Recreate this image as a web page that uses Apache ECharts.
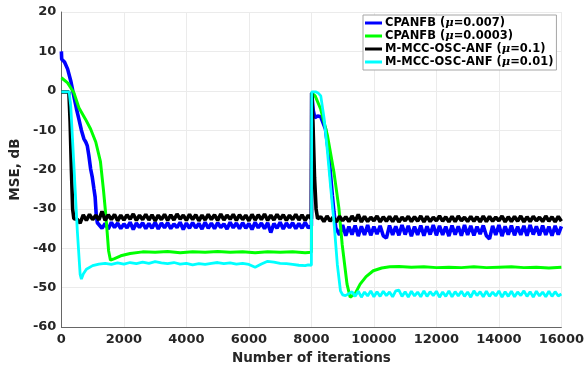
<!DOCTYPE html>
<html>
<head>
<meta charset="utf-8">
<script src="https://cdn.jsdelivr.net/npm/echarts@6/dist/echarts.min.js"></script>
<style>
  html, body { margin: 0; padding: 0; background: #fff; }
  #chart { width: 587px; height: 370px; }
</style>
</head>
<body>
<div id="chart"></div>
<script>
// series names (legend)
const names = [
  'CPANFB (μ=0.007)',
  'CPANFB (μ=0.0003)',
  'M-MCC-OSC-ANF (μ=0.1)',
  'M-MCC-OSC-ANF (μ=0.01)'
]

// steady-state samples are read every 100 iterations
const sampleStep = 100

// --- CPANFB (mu=0.007), blue ---
const blueStart1 = [
  [0, 10], [10, 8], [100, 7.3], [200, 5.5], [300, 2.5], [400, -1.4], [480, -4.5],
  [560, -7.2], [640, -10], [720, -12.2], [780, -13], [830, -14], [880, -16.5],
  [935, -19.8], [990, -22], [1040, -24.8], [1080, -27], [1115, -31.5], [1150, -33.5]
]
const blueSteady1 = [ // 1200 .. 7900
  -33.5, -34.9, -33.7, -35.1, -33.4, -34.7, -33.6, -35.0, -33.8, -34.8,
  -33.4, -35.2, -33.6, -34.7, -33.5, -35.0, -33.7, -34.9, -33.4, -35.1,
  -33.6, -34.8, -33.5, -35.0, -33.8, -34.7, -33.4, -35.2, -33.6, -34.9,
  -33.5, -34.8, -33.7, -35.1, -33.4, -34.9, -33.6, -35.0, -33.5, -34.7,
  -33.8, -35.1, -33.4, -34.8, -33.6, -35.0, -33.5, -34.9, -33.7, -35.2,
  -33.4, -34.8, -33.6, -35.0, -33.5, -36.0, -33.7, -34.9, -33.4, -35.1,
  -33.6, -34.8, -33.5, -35.0, -33.7, -34.9, -33.4, -34.8
]
const blueStart2 = [
  [8000, -34.3], [8010, -0.5], [8060, -5], [8110, -6.8], [8200, -6.4], [8300, -6.6],
  [8350, -7], [8450, -9.7], [8560, -16.4], [8670, -26.5], [8720, -30.6], [8780, -34.8]
]
const blueSteady2 = [ // 8800 .. 16000
  -34.3, -36.6, -34.1, -36.8, -34.5, -36.5, -34.2, -36.9, -34.4, -36.6,
  -34.1, -36.7, -34.5, -36.4, -34.3, -36.8, -37.4, -34.2, -36.6, -34.4,
  -36.7, -34.1, -36.5, -34.3, -36.9, -34.5, -36.6, -34.2, -36.8, -34.4,
  -36.5, -34.1, -36.7, -34.3, -36.6, -34.5, -36.9, -34.2, -36.5, -34.4,
  -36.8, -34.1, -36.6, -34.3, -36.7, -34.5, -36.4, -34.2, -36.8, -37.6,
  -34.3, -36.6, -34.1, -36.9, -34.4, -36.5, -34.2, -36.7, -34.5, -36.6,
  -34.3, -36.8, -34.1, -36.5, -34.4, -36.7, -34.2, -36.6, -34.5, -36.8,
  -34.3, -36.5, -34.4
]

// --- CPANFB (mu=0.0003), green ---
const green1 = [
  [0, 3.3], [50, 3], [200, 2], [400, -0.5], [560, -4.3], [770, -7.2], [935, -9.7],
  [1100, -13], [1250, -18], [1350, -25.5], [1430, -32.3], [1510, -40.6], [1570, -43],
  [1700, -42.6], [1900, -41.9], [2200, -41.3], [2600, -40.9], [3000, -41.0], [3400, -40.8],
  [3800, -41.1], [4200, -40.9], [4600, -41.0], [5000, -40.8], [5400, -41.0], [5800, -40.9],
  [6200, -41.1], [6600, -40.9], [7000, -41.0], [7400, -40.9], [7800, -41.1], [8000, -41.0]
]
const green2 = [
  [8010, -0.5], [8120, -1.3], [8300, -4.7], [8515, -11.4], [8720, -20.6], [8880, -29.8],
  [8985, -39], [9140, -49.1], [9240, -52.4], [9300, -52.9], [9400, -51.5], [9560, -49.1],
  [9750, -47.2], [9980, -45.7], [10250, -45.0], [10510, -44.7], [10800, -44.6], [11200, -44.8],
  [11600, -44.7], [12000, -44.9], [12400, -44.8], [12800, -44.9], [13200, -44.7], [13600, -44.9],
  [14000, -44.8], [14400, -44.7], [14800, -44.9], [15200, -44.8], [15600, -45.0], [16000, -44.8]
]

// --- M-MCC-OSC-ANF (mu=0.1), black ---
const blackStart1 = [
  [0, -0.3], [240, -0.3], [280, -8], [320, -20], [360, -30], [400, -32.5], [450, -32.0]
]
const blackSteady1 = [ // 500 .. 7900
  -32.6, -33.6, -31.5, -32.9, -31.4, -32.7, -31.6, -32.8, -30.6, -32.9,
  -31.5, -32.7, -31.4, -33.0, -31.6, -32.8, -31.5, -32.6, -31.3, -32.9,
  -31.6, -32.7, -31.4, -32.8, -31.5, -33.0, -31.6, -32.7, -31.4, -32.9,
  -31.5, -32.8, -31.3, -32.6, -31.6, -32.9, -31.4, -32.7, -31.5, -33.0,
  -31.6, -32.8, -31.4, -32.7, -31.5, -32.9, -31.3, -32.8, -31.6, -32.6,
  -31.4, -32.9, -31.5, -32.7, -31.6, -33.0, -31.4, -32.8, -31.5, -32.7,
  -31.3, -32.9, -31.6, -32.8, -31.4, -32.6, -31.5, -32.9, -31.6, -32.7,
  -31.4, -32.8, -31.5, -32.9, -31.6
]
const blackStart2 = [
  [8000, -32.5], [8010, -0.5], [8050, -8], [8100, -22], [8150, -30], [8200, -32.5], [8250, -33.0]
]
const blackSteady2 = [ // 8300 .. 16000
  -32.0, -33.2, -31.8, -33.1, -32.1, -33.3, -31.9, -33.0, -32.0, -33.2,
  -31.8, -33.1, -31.4, -33.3, -31.9, -33.2, -32.1, -33.0, -31.8, -33.3,
  -32.0, -33.1, -31.9, -33.2, -31.8, -33.3, -32.1, -33.0, -31.9, -33.2,
  -32.0, -33.1, -31.8, -33.3, -31.9, -33.2, -32.1, -33.0, -31.8, -33.1,
  -32.0, -33.3, -31.9, -33.2, -31.8, -33.0, -32.1, -33.2, -31.9, -33.1,
  -32.0, -33.3, -31.8, -33.2, -31.9, -33.1, -32.1, -33.0, -31.8, -33.3,
  -32.0, -33.2, -31.9, -33.1, -31.8, -33.3, -32.0, -33.2, -31.9, -33.0,
  -32.1, -33.2, -31.8, -33.1, -32.0, -33.3, -31.9, -33.1
]

// --- M-MCC-OSC-ANF (mu=0.01), cyan ---
const cyanStart1 = [
  [0, -0.3], [250, -0.3], [300, -4], [350, -11.4], [420, -22], [510, -35.6], [600, -46.6],
  [640, -47.8], [700, -46.5], [800, -45.3], [1000, -44.4], [1200, -44.0]
]
const cyanSteady1 = [ // 1400 .. 7800, every 200
  -43.8, -44.1, -43.7, -44.0, -43.6, -43.9, -43.5, -43.8, -43.4, -43.7,
  -43.9, -43.6, -44.0, -43.8, -44.2, -43.9, -44.1, -43.8, -43.6, -43.9,
  -43.7, -44.0, -43.8, -44.1, -44.8, -44.0, -43.3, -43.5, -43.8, -43.9,
  -44.1, -44.3, -44.4
]
const cyanStart2 = [
  [7900, -44.2], [8000, -44.3], [8010, -0.3], [8150, -0.3], [8220, -0.6], [8300, -1.3],
  [8410, -7.2], [8515, -15.5], [8620, -24.8], [8720, -33.1], [8830, -44.1], [8930, -50.8],
  [9000, -51.8], [9090, -52.0], [9200, -51.5]
]
const cyanSteady2 = [ // 9300 .. 16000
  -51.0, -52.2, -50.9, -52.4, -51.1, -52.1, -50.8, -52.3, -51.0, -52.2,
  -50.9, -52.0, -51.1, -52.3, -50.8, -50.6, -52.2, -51.0, -52.4, -50.9,
  -52.1, -51.1, -52.3, -50.8, -52.2, -51.0, -52.0, -50.9, -52.4, -51.1,
  -52.2, -50.8, -52.3, -51.0, -52.1, -50.9, -52.2, -51.1, -52.4, -50.8,
  -52.0, -51.0, -52.3, -50.9, -52.2, -51.1, -52.1, -50.8, -52.4, -51.0,
  -52.2, -50.9, -52.3, -51.1, -52.0, -50.8, -52.2, -51.0, -52.4, -50.9,
  -52.1, -51.1, -52.3, -50.9, -52.2, -51.0, -52.1, -51.6
]

const xTicks = [0, 2000, 4000, 6000, 8000, 10000, 12000, 14000, 16000]
const yTicks = [-60, -50, -40, -30, -20, -10, 0, 10, 20]

function sampled(start, values, step) {
  return values.map((v, i) => [start + i * (step || sampleStep), v])
}

const blueData = blueStart1.concat(sampled(1200, blueSteady1), blueStart2, sampled(8800, blueSteady2))
const greenData = green1.concat(green2)
const blackData = blackStart1.concat(sampled(500, blackSteady1), blackStart2, sampled(8300, blackSteady2))
const cyanData = cyanStart1.concat(sampled(1400, cyanSteady1, 200), cyanStart2, sampled(9300, cyanSteady2))

const font = 'DejaVu Sans'
const colors = ['#0000ff', '#00ff00', '#000000', '#00ffff']
const widths = [3.6, 3, 3.6, 2.8]
const allData = [blueData, greenData, blackData, cyanData]

const chart = echarts.init(document.getElementById('chart'), null, { renderer: 'canvas' })

const option = {
  animation: false,
  backgroundColor: '#fff',
  grid: { left: 57, right: 23, top: 12, bottom: 40 },
  legend: {
    orient: 'vertical',
    left: 363,
    top: 15,
    padding: [2, 3, 2, 2],
    itemGap: 1,
    icon: 'rect',
    itemWidth: 17,
    itemHeight: 3,
    backgroundColor: '#fff',
    borderColor: '#a6a6a6',
    borderWidth: 1,
    data: names,
    formatter: name => {
      const parts = name.split('μ')
      return '{b|' + parts[0] + '}{i|μ}{b|' + parts[1] + '}'
    },
    textStyle: {
      fontFamily: font,
      fontWeight: 'bold',
      fontSize: 11.5,
      color: '#000',
      padding: [0, 0, 0, -2],
      rich: {
        b: { fontFamily: font, fontWeight: 'bold', fontSize: 11.5, lineHeight: 12.3, color: '#000' },
        i: { fontFamily: 'DejaVu Serif', fontStyle: 'italic', fontSize: 11.5, lineHeight: 12.3, color: '#000' }
      }
    }
  },
  xAxis: {
    type: 'value',
    min: xTicks[0],
    max: xTicks[xTicks.length - 1],
    interval: 2000,
    name: 'Number of iterations',
    nameLocation: 'middle',
    nameGap: 20,
    nameTextStyle: { fontFamily: font, fontWeight: 'bold', fontSize: 13.5, color: '#262626' },
    axisLine: { onZero: false, lineStyle: { color: '#666', width: 1 } },
    axisTick: { show: false },
    axisLabel: {
      fontFamily: font, fontWeight: 'bold', fontSize: 13, color: '#262626', margin: 6,
      formatter: v => String(v)
    },
    splitLine: { lineStyle: { color: '#ebebeb', width: 1 } }
  },
  yAxis: {
    type: 'value',
    min: yTicks[0],
    max: yTicks[yTicks.length - 1],
    interval: 10,
    name: 'MSE, dB',
    nameLocation: 'middle',
    nameGap: 34,
    nameTextStyle: { fontFamily: font, fontWeight: 'bold', fontSize: 13.5, color: '#262626' },
    axisLine: { show: true, onZero: false, lineStyle: { color: '#666', width: 1 } },
    axisTick: { show: false },
    axisLabel: {
      fontFamily: font, fontWeight: 'bold', fontSize: 13, color: '#262626', margin: 5,
      formatter: v => String(v)
    },
    splitLine: { lineStyle: { color: '#ebebeb', width: 1 } }
  },
  series: names.map((name, i) => ({
    name,
    type: 'line',
    symbol: 'none',
    smooth: false,
    z: 2 + i,
    lineStyle: { color: colors[i], width: widths[i] },
    itemStyle: { color: colors[i] },
    data: allData[i]
  }))
}

chart.setOption(option)
</script>
</body>
</html>
